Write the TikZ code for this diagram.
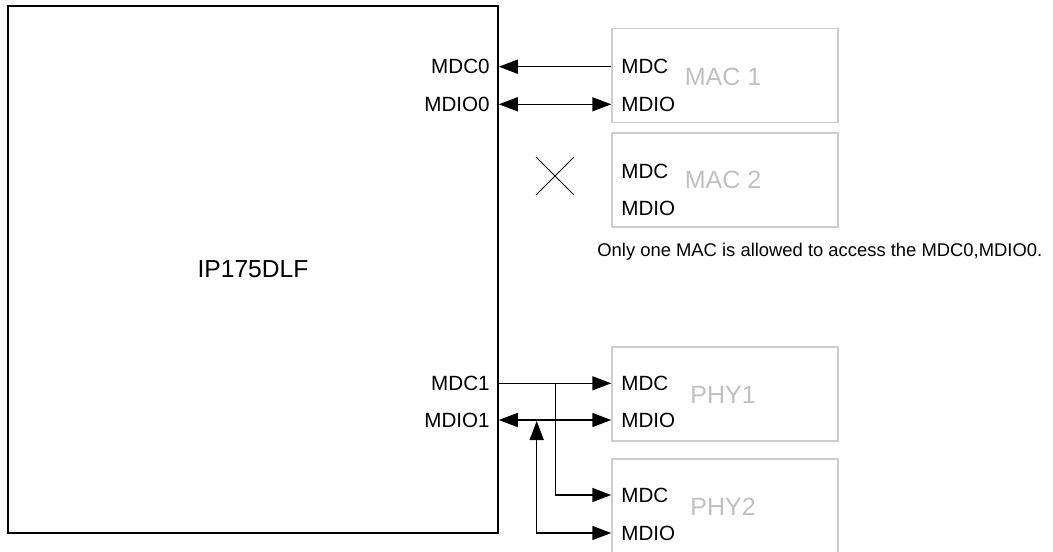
\documentclass[tikz,border=0pt]{standalone}
\usepackage{fontspec}
\setmainfont{Liberation Sans}
\usetikzlibrary{arrows.meta}
\definecolor{boxgray}{RGB}{205,205,205}
\definecolor{txtgray}{RGB}{192,192,192}
\begin{document}
\begin{tikzpicture}[x=0.5pt,y=-0.5pt,
  >={Triangle[length=9.5pt,width=7pt]},
  chip/.style={draw, line width=0.75pt, minimum width=245pt, minimum height=263.5pt, inner sep=0pt, font=\fontsize{12.3}{14}\selectfont},
  dev/.style={draw=boxgray, line width=0.75pt, minimum width=113pt, minimum height=47pt, inner sep=0pt, text=txtgray, font=\fontsize{12.5}{15}\selectfont},
  devtitle/.style={text=txtgray, inner sep=0pt, font=\fontsize{12.5}{15}\selectfont},
  pin/.style={inner sep=0pt, font=\fontsize{10.3}{12}\selectfont},
  note/.style={inner sep=0pt, font=\fontsize{9.2}{11}\selectfont},
  wire/.style={line width=0.75pt},
  cross/.style={line width=0.5pt}]
\clip (0,0) rectangle (1053,551);
% chip
\node[chip] (ip) at (253,269.5) {IP175DLF};
\node[pin,anchor=east] (c0) at (490,66.7) {MDC0};
\node[pin,anchor=east] (d0) at (490,104.3) {MDIO0};
\node[pin,anchor=east] (c1) at (490,383.3) {MDC1};
\node[pin,anchor=east] (d1) at (490,420) {MDIO1};
% devices
\node[dev] (mac1) at (725,75.5) {};
\node[devtitle] at (723,77) {MAC 1};
\node[pin,anchor=west] (m1c) at (621,66.7) {MDC};
\node[pin,anchor=west] (m1d) at (621,104.3) {MDIO};
\node[dev] (mac2) at (725,180) {};
\node[devtitle] at (723,180) {MAC 2};
\node[pin,anchor=west] (m2c) at (621,171.7) {MDC};
\node[pin,anchor=west] (m2d) at (621,208) {MDIO};
\node[dev] (phy1) at (725,394) {};
\node[devtitle] at (723,395) {PHY1};
\node[pin,anchor=west] (p1c) at (621,383.3) {MDC};
\node[pin,anchor=west] (p1d) at (621,420) {MDIO};
\node[dev, minimum height=52pt] (phy2) at (725,511) {};
\node[devtitle] at (723,507) {PHY2};
\node[pin,anchor=west] (p2c) at (621,495) {MDC};
\node[pin,anchor=west] (p2d) at (621,533) {MDIO};
% note
\node[note,anchor=west] (note) at (597,252) {Only one MAC is allowed to access the MDC0,MDIO0.};
% cross
\draw[cross] (536,157) -- (574,195) (536,195) -- (574,157);
% connectors
\draw[wire,->] (m1c.west -| mac1.west) -- (c0.east -| ip.east);
\draw[wire,<->] (d0.east -| ip.east) -- (m1d.west -| mac1.west);
\draw[wire,->] (c1.east -| ip.east) -- (p1c.west -| phy1.west);
\draw[wire,<->] (d1.east -| ip.east) -- (p1d.west -| phy1.west);
\coordinate (b1) at (555.7,383.3);
\coordinate (b2) at (536.7,421);
\draw[wire,->] (b1) |- (p2c.west -| phy2.west);
\draw[wire,<->] (b2) |- (p2d.west -| phy2.west);
\end{tikzpicture}
\end{document}
